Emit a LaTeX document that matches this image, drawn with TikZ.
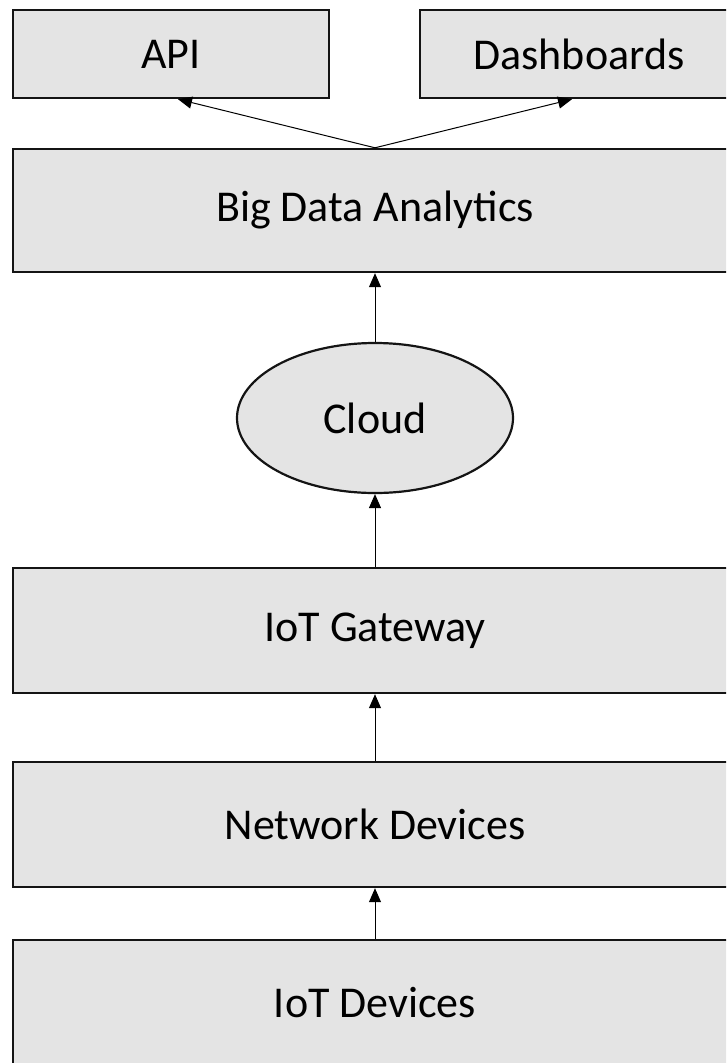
\documentclass[tikz,border=0pt]{standalone}
\usepackage{fontspec}
\setmainfont{Carlito}
\usetikzlibrary{arrows.meta,shapes.geometric,calc}
\definecolor{boxfill}{HTML}{E4E4E4}
\definecolor{boxline}{HTML}{141414}
\tikzset{
  layer/.style={draw=boxline, line width=2.4pt, fill=boxfill, rectangle,
    inner sep=0pt, font=\fontsize{44}{50}\selectfont},
  cloudshape/.style={draw=boxline, line width=2.2pt, fill=boxfill, ellipse,
    inner sep=0pt, font=\fontsize{44}{50}\selectfont},
  flow/.style={draw=black, line width=1pt,
    -{Triangle[length=14pt,width=12pt]}}
}
\begin{document}
\begin{tikzpicture}[x=1pt,y=-1pt]
  \useasboundingbox (0,0) rectangle (726,1063);
  \clip (0,0) rectangle (726,1063);

  % output layer
  \node[layer, minimum width=316pt, minimum height=88pt] (api) at (171,54) {API};
  \node[layer, minimum width=318pt, minimum height=88pt] (dash) at (579,54) {Dashboards};

  % processing stack
  \node[layer, minimum width=724pt, minimum height=123pt] (bda) at (375,210.5) {Big Data Analytics};
  \node[cloudshape, minimum width=276pt, minimum height=150pt] (cloud) at (375,418) {Cloud};
  \node[layer, minimum width=724pt, minimum height=125pt] (gw) at (375,630.5) {IoT Gateway};
  \node[layer, minimum width=724pt, minimum height=125pt] (net) at (375,824.5) {Network Devices};
  \node[layer, minimum width=724pt, minimum height=125pt] (iotd) at (375,1002.5) {IoT Devices};

  % data flow
  \draw[flow] (iotd.north) -- (net.south);
  \draw[flow] (net.north) -- (gw.south);
  \draw[flow] (gw.north) -- (cloud.south);
  \draw[flow] (cloud.north) -- (bda.south);
  \draw[flow] (bda.north) -- ($(api.south)+(7,0)$);
  \draw[flow] (bda.north) -- ($(dash.south)+(-7,0)$);
\end{tikzpicture}
\end{document}
